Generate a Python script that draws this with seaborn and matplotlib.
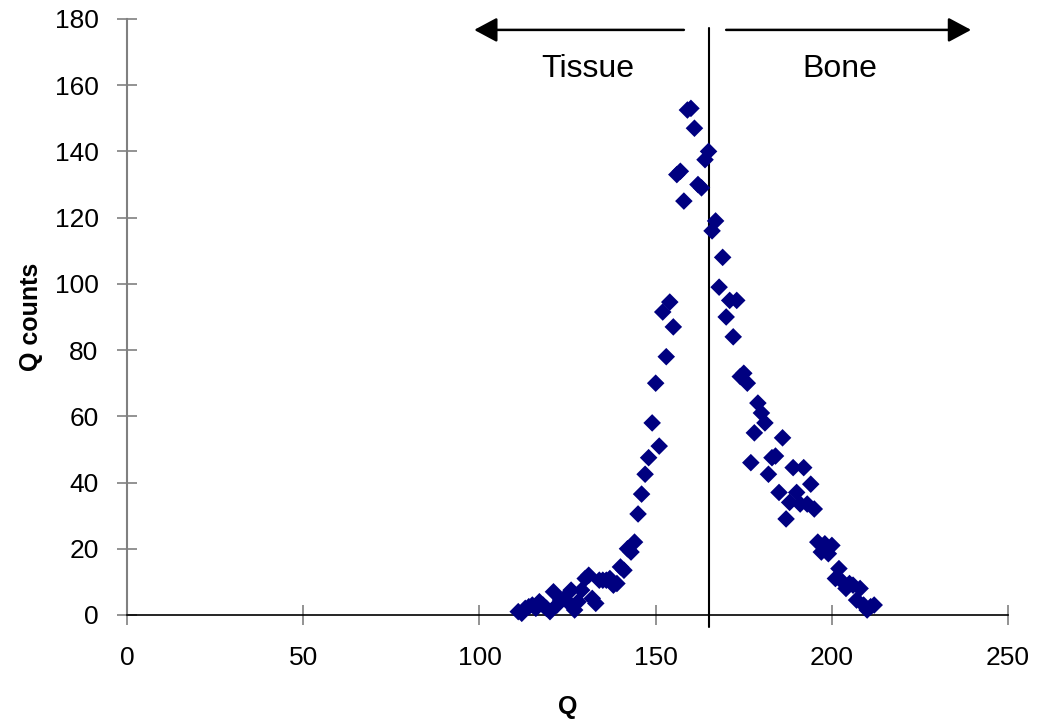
import numpy as np
import pandas as pd
import matplotlib
matplotlib.use("Agg")
import matplotlib.pyplot as plt
import seaborn as sns

# Q values and their counts
q_values = list(range(111, 213))
q_counts = [1, 0.5, 2, 2.5, 3, 2, 4, 3, 2, 1,
            7, 3, 4.5, 5, 4, 7.5, 1.5, 4, 7.5, 11,
            12, 5, 3.5, 10.5, 10.5, 10.5, 11, 9, 9.5, 14.5,
            13.5, 20, 19, 22, 30.5, 36.5, 42.5, 47.5, 58, 70,
            51, 91.5, 78, 94.5, 87, 133, 134, 125, 152.5, 153,
            147, 130, 129, 137.5, 140, 116, 119, 99, 108, 90,
            95, 84, 95, 72, 73, 70, 46, 55, 64, 61,
            58, 42.5, 47.5, 48, 37, 53.5, 29, 34, 44.5, 37,
            33.5, 44.5, 33.5, 39.5, 32, 22, 19, 21.5, 18.5, 21,
            11, 14, 10, 8, 9.5, 9, 4.5, 8, 3, 1.5,
            2.5, 3]

threshold = 165
x_ticks = [0, 50, 100, 150, 200, 250]
y_ticks = list(range(0, 181, 20))

df = pd.DataFrame({"Q": q_values, "counts": q_counts})

sns.set_style("white")
plt.rcParams['font.family'] = ['Liberation Sans', 'DejaVu Sans']
plt.rcParams['text.color'] = 'black'
plt.rcParams['axes.labelcolor'] = 'black'

fig = plt.figure(figsize=(10.38, 7.24), dpi=100)
ax = fig.add_axes([0.1224, 0.1506, 0.8488, 0.8232])

sns.scatterplot(data=df, x="Q", y="counts", marker="D", color="#000080",
                edgecolor="none", s=80, ax=ax, zorder=3, clip_on=False)

ax.set_xlim(0, 250)
ax.set_ylim(0, 180)
ax.set_xticks(x_ticks)
ax.set_yticks(y_ticks)
ax.tick_params(axis="both", bottom=True, left=True, labelsize=19, length=15,
               width=1.2, color="#808080", labelcolor="black", direction="inout")
ax.tick_params(axis="x", pad=15)
ax.tick_params(axis="y", pad=13)

for side in ["top", "right"]:
    ax.spines[side].set_visible(False)
ax.spines["left"].set_color("#808080")
ax.spines["left"].set_linewidth(1.5)
ax.spines["bottom"].set_color("black")
ax.spines["bottom"].set_linewidth(1.2)

ax.set_xlabel("Q", fontsize=18, fontweight="bold", labelpad=18)
ax.set_ylabel("Q counts", fontsize=18, fontweight="bold", labelpad=8)

# threshold line between tissue and bone
ax.plot([threshold, threshold], [-3.6, 177.3], color="black", lw=1.5, clip_on=False, zorder=2)

arrow_style = dict(arrowstyle="-|>,head_length=1.4,head_width=0.75", color="black",
                   lw=1.8, shrinkA=0, shrinkB=0)
ax.annotate("", xy=(98.5, 176.7), xytext=(158, 176.7), arrowprops=arrow_style,
            annotation_clip=False)
ax.annotate("", xy=(239.5, 176.7), xytext=(170, 176.7), arrowprops=arrow_style,
            annotation_clip=False)

ax.text(130.8, 165, "Tissue", fontsize=23, ha="center", va="center")
ax.text(202.3, 165, "Bone", fontsize=23, ha="center", va="center")

plt.savefig("out.png", dpi=100)
